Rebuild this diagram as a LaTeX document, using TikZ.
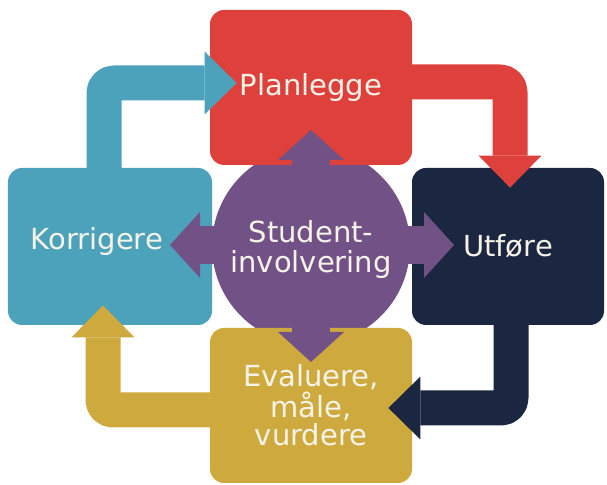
\documentclass[tikz,border=0pt]{standalone}
\usepackage{fontspec}
\setmainfont{DejaVu Sans}
\usetikzlibrary{arrows.meta,calc}
\definecolor{planred}{RGB}{222,64,60}
\definecolor{korrblue}{RGB}{75,162,186}
\definecolor{utfnavy}{RGB}{27,38,64}
\definecolor{evalgold}{RGB}{206,170,62}
\definecolor{studpurple}{RGB}{114,82,134}
\definecolor{textcream}{RGB}{246,243,232}

\begin{document}
\begin{tikzpicture}[x=0.5pt, y=-0.5pt,
    box/.style={rectangle, rounded corners=7pt, inner sep=0pt, text=textcream,
                font=\fontsize{14.5}{15}\selectfont, align=center},
    flow/.style={line width=17.5pt, rounded corners=5pt, line join=round,
                 -{Triangle[length=16pt, width=31.5pt, line width=0pt]}},
    hub/.style={draw=studpurple, line width=19pt,
                {Triangle[length=15pt, width=33pt, line width=0pt]}-{Triangle[length=15pt, width=33pt, line width=0pt]}}]
  \useasboundingbox (0,0) rectangle (607,485);

  % middle circle, partly hidden by the boxes
  \node[circle, fill=studpurple, minimum size=99pt, inner sep=0pt] (stud) at (311,246) {};

  \node[box, fill=planred, minimum width=101pt, minimum height=77.5pt] (plan) at (311,87.5) {Planlegge};
  \node[box, fill=korrblue, minimum width=102pt, minimum height=78.5pt,
        label={[box, xshift=-6.5pt, yshift=2.5pt]center:Korrigere}] (korr) at (110,246.5) {};
  \node[box, fill=utfnavy, minimum width=96pt, minimum height=78.5pt] (utf) at (508,246.5) {Utføre};
  \node[box, fill=evalgold, minimum width=101pt, minimum height=77.5pt,
        font=\fontsize{14.5}{14}\selectfont] (eval) at (311,405.5) {Evaluere,\\måle,\\vurdere};

  % cycle
  \draw[flow, draw=korrblue] ([xshift=-3pt, yshift=-5pt]korr.north) |- ([xshift=13.5pt, yshift=2.25pt]plan.west);
  \draw[flow, draw=planred] ([xshift=-5pt, yshift=2.75pt]plan.east) -| ([xshift=1pt, yshift=-10pt]utf.north);
  \draw[flow, draw=utfnavy] ([xshift=1.5pt, yshift=5pt]utf.south) |- ([xshift=-12pt, yshift=-1.25pt]eval.east);
  \draw[flow, draw=evalgold] ([xshift=5pt, yshift=-2.25pt]eval.west) -| ([xshift=-3.5pt, yshift=10pt]korr.south);

  % four-way arrow
  \draw[hub] ($(stud.center)+(0,-116)$) -- ($(stud.center)+(0,116)$);
  \draw[hub] ($(stud.center)+(-141,-1)$) -- ($(stud.center)+(143,-1)$);

  \node[box] (studtext) at ([yshift=-1.75pt]stud.center) {Student-\\involvering};
\end{tikzpicture}
\end{document}
